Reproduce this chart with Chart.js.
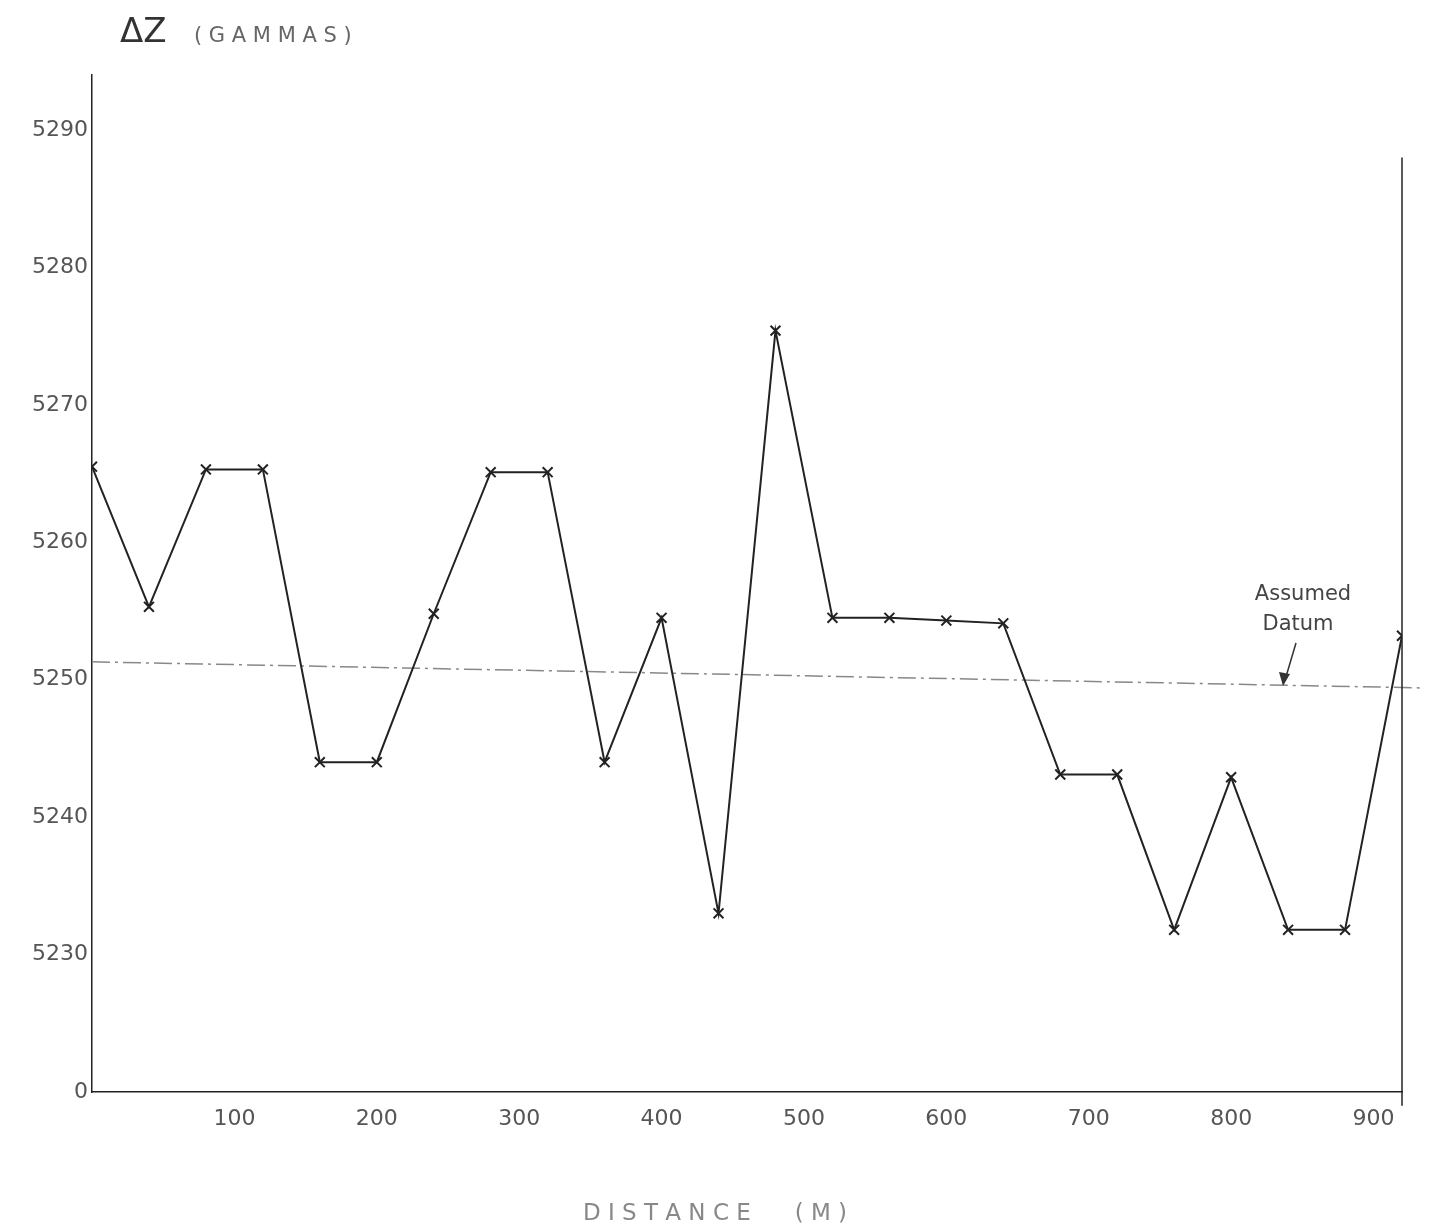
<!DOCTYPE html>
<html>
<head>
<meta charset="utf-8">
<script src="https://cdn.jsdelivr.net/npm/chart.js@4/dist/chart.umd.min.js"></script>
<style>
html,body{margin:0;padding:0;background:#fff;}
#wrap{width:1431px;height:1228px;}
</style>
</head>
<body>
<div id="wrap"><canvas id="graph" width="1431" height="1228"></canvas></div>
<script>

// distance along the line (m)
const distance=[0,40,80,120,160,200,240,280,320,360,400,440,480,520,560,600,640,680,720,760,800,840,880,920];
// vertical field (gammas)
const deltaZ=[5265.5,5255.3,5265.3,5265.3,5244,5244,5254.8,5265.1,5265.1,5244,5254.5,5233,5275.4,5254.5,5254.5,5254.3,5254.1,5243.1,5243.1,5231.8,5242.9,5231.8,5231.8,5253.2];
// assumed datum, drawn across the profile
const datumX=[0,935];
const datumY=[5251.3,5249.4];
const yTicks=[5220,5230,5240,5250,5260,5270,5280,5290];
const xTicks=[0,100,200,300,400,500,600,700,800,900];

const ink="#222";
const labelFont={family:"'DejaVu Sans'",size:22};

const extras={
id:"extras",
afterDraw(c){
const g=c.ctx;
const xs=c.scales.x, ys=c.scales.y;
g.save();
// right hand closing line
const rx=xs.getPixelForValue(920);
g.strokeStyle=ink;
g.lineWidth=1.5;
g.beginPath();
g.moveTo(rx,ys.getPixelForValue(5288));
g.lineTo(rx,ys.getPixelForValue(5219));
g.stroke();
// y title
g.fillStyle="#333";
g.font="34px 'DejaVu Sans'";
g.textBaseline="alphabetic";
g.fillText("ΔZ",120,42);
g.fillStyle="#666";
g.font="21px 'DejaVu Sans'";
g.fillText("( G A M M A S )",194,42);
// x title
g.fillStyle="#888";
g.font="23px 'DejaVu Sans'";
g.textAlign="center";
g.fillText("D I S T A N C E      ( M )",715,1220);
// datum note
g.fillStyle="#444";
g.font="21px 'DejaVu Sans'";
g.fillText("Assumed",1303,600);
g.fillText("Datum",1298,630);
g.strokeStyle="#333";
g.lineWidth=1.5;
g.beginPath();
g.moveTo(1296,643);
g.lineTo(1285,680);
g.stroke();
g.fillStyle="#333";
g.beginPath();
g.moveTo(1283,686);
g.lineTo(1279,672);
g.lineTo(1290,674);
g.closePath();
g.fill();
g.restore();
}
};

new Chart(document.getElementById("graph"),{
type:"scatter",
data:{
datasets:[
{
label:"ΔZ",
data:distance.map((d,i)=>({x:d,y:deltaZ[i]})),
showLine:true,
borderColor:ink,
borderWidth:2,
pointStyle:"crossRot",
pointRadius:7,
pointBorderWidth:2,
pointBorderColor:ink,
backgroundColor:ink
},
{
label:"Assumed Datum",
data:datumX.map((d,i)=>({x:d,y:datumY[i]})),
showLine:true,
borderColor:"#888",
borderWidth:1.5,
borderDash:[18,5,3,5],
pointRadius:0,
clip:false
}
]
},
options:{
responsive:false,
animation:false,
layout:{padding:{top:75,right:29,left:0,bottom:0}},
plugins:{legend:{display:false},tooltip:{enabled:false}},
scales:{
x:{
type:"linear",
min:0,max:920,
afterBuildTicks:s=>{s.ticks=xTicks.map(v=>({value:v}));},
grid:{display:false,drawTicks:false},
border:{display:true,color:ink,width:1.5},
ticks:{color:"#555",font:labelFont,padding:14,maxRotation:0,callback:v=>v===0?"":v},
afterFit:s=>{s.height=136;}
},
y:{
min:5220,max:5294,
afterBuildTicks:s=>{s.ticks=yTicks.map(v=>({value:v}));},
grid:{display:false,drawTicks:false},
border:{display:true,color:ink,width:1.5},
ticks:{color:"#555",font:labelFont,padding:4,callback:v=>v===5220?"0":v},
afterFit:s=>{s.width=92;}
}
}
},
plugins:[extras]
});

</script>
</body>
</html>
